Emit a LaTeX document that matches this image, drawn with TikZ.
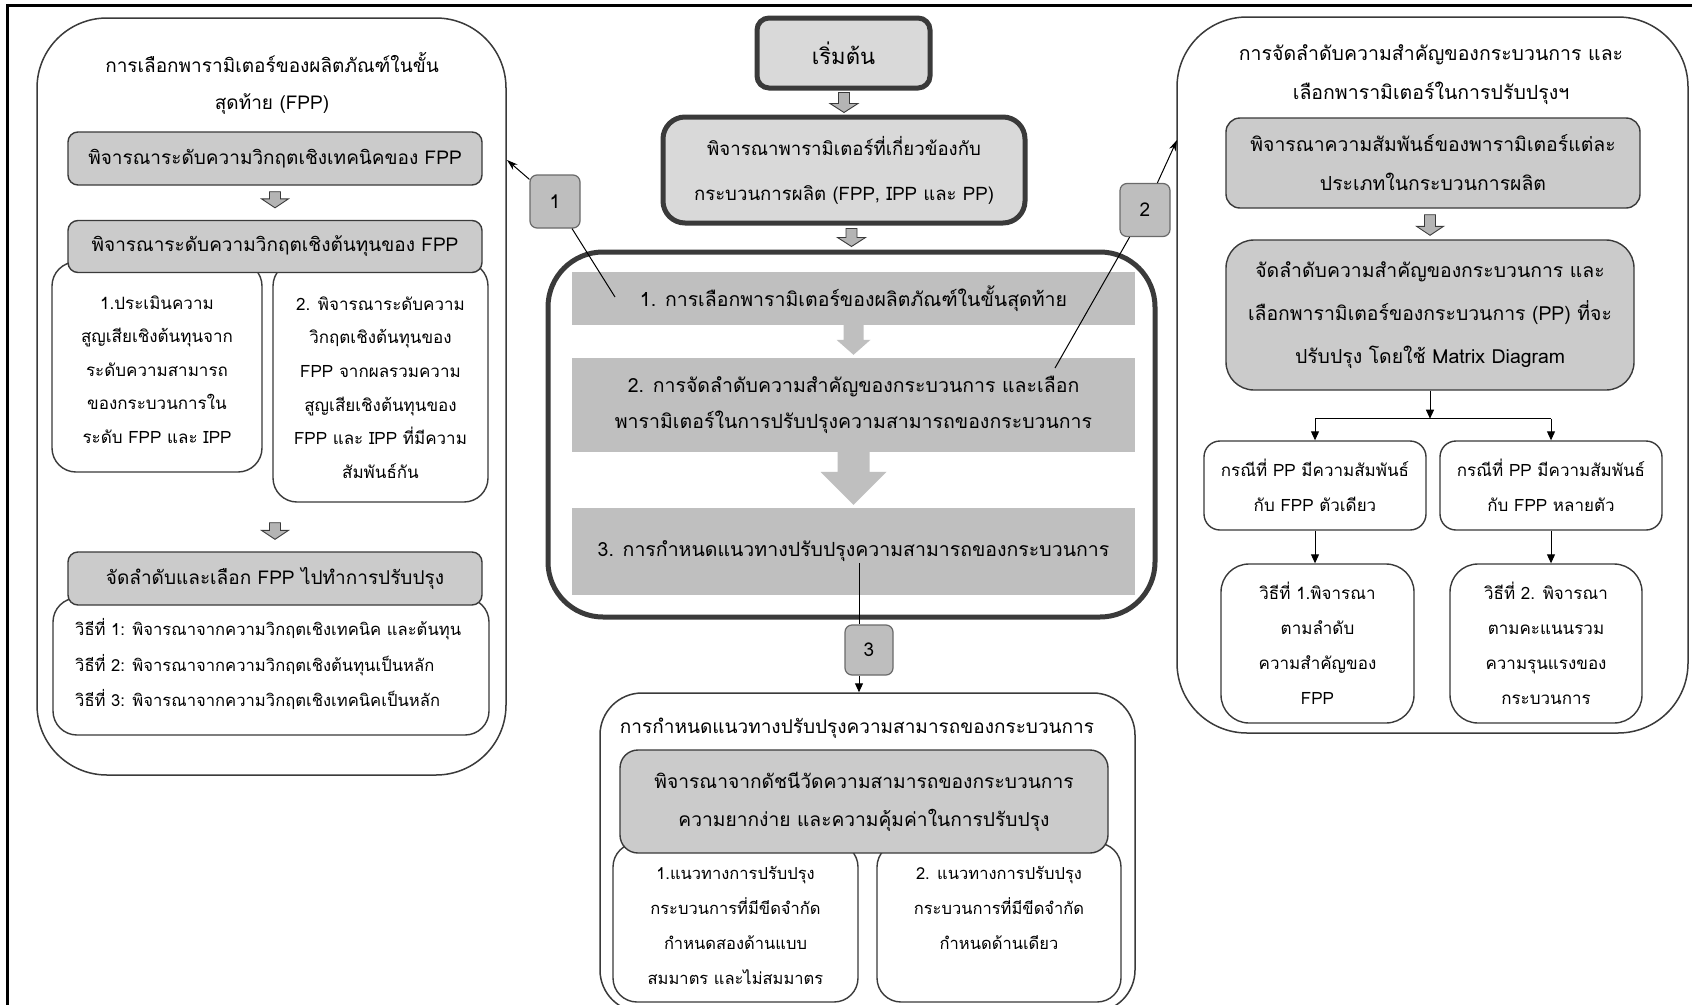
\documentclass[tikz,border=0pt]{standalone}
\usepackage{fontspec}
\setmainfont[Script=Thai]{Loma}
\usetikzlibrary{arrows.meta,calc}

\definecolor{boxgray}{HTML}{CBCBCB}
\definecolor{bandgray}{HTML}{BFBFBF}
\definecolor{startgray}{HTML}{D9D9D9}
\definecolor{edgegray}{HTML}{3A3A3A}
\definecolor{labgray}{HTML}{BEBEBE}
\definecolor{labedge}{HTML}{6A6A6A}
\definecolor{arrowgray}{HTML}{B4B4B4}

\newcommand\fs[2]{\fontsize{#1}{#2}\selectfont}

% block arrow between two nodes: from, to, half shaft, half head, head length, top gap, bottom gap, style
\newcommand\blockarrow[8]{%
  \path[#8] let \p1=(#1.south), \p2=(#2.north) in
    ({\x2-#3pt},{\y1-#6pt}) -- ({\x2+#3pt},{\y1-#6pt}) --
    ({\x2+#3pt},{\y2+#7pt+#5pt}) -- ({\x2+#4pt},{\y2+#7pt+#5pt}) --
    (\x2,{\y2+#7pt}) -- ({\x2-#4pt},{\y2+#7pt+#5pt}) --
    ({\x2-#3pt},{\y2+#7pt+#5pt}) -- cycle;}

\begin{document}
\begin{tikzpicture}[x=1pt,y=-1pt,
  panel/.style={draw=edgegray, line width=1.5pt, fill=white, rounded corners=70pt, inner sep=0pt},
  gbox/.style={draw=edgegray, line width=1.4pt, fill=boxgray, rounded corners=10pt, align=center, inner sep=0pt, font=\fs{19}{38}},
  wbox/.style={draw=edgegray, line width=1.4pt, fill=white, rounded corners=24pt, inner sep=0pt},
  subtext/.style={align=center, inner sep=0pt, font=\fs{17}{33.6}},
  titletext/.style={align=center, inner sep=0pt, font=\fs{19}{37}},
  startbox/.style={draw=edgegray, line width=5pt, fill=startgray, rounded corners=12pt, align=center, inner sep=0pt},
  bigbox/.style={draw=edgegray, line width=5pt, fill=white, rounded corners=55pt, inner sep=0pt},
  band/.style={fill=bandgray, align=center, inner sep=0pt, font=\fs{19.5}{36}},
  tag/.style={draw=labedge, line width=1.2pt, fill=labgray, rounded corners=7pt, inner sep=0pt, minimum width=50pt, minimum height=53pt, font=\fs{19}{22}},
  sidearrow/.style={fill=arrowgray, draw=edgegray, line width=0.9pt},
  bandarrow/.style={fill=bandgray},
  flow/.style={line width=1pt, -{Triangle[length=9pt,width=8pt]}},
  callout/.style={line width=1pt, -{Stealth[length=11pt,width=7pt]}}
]
\useasboundingbox (0,0) rectangle (1692,1004);
\clip (0,0) rectangle (1692,1004);
\fill[white] (0,0) rectangle (1692,1004);
\draw[black, line width=3pt] (7,5) rectangle (1730,1040);

% ---------------- left panel ----------------
\node[panel, minimum width=469pt, minimum height=757pt] (lpanel) at (271.5,396.5) {};
\node[titletext] (ltitle) at (272,83) {การเลือกพารามิเตอร์ของผลิตภัณฑ์ในขั้น\\สุดท้าย (FPP)};
\node[wbox, minimum width=210pt, minimum height=210pt] (a3) at (157,367) {};
\node[wbox, minimum width=215pt, minimum height=240pt] (a4) at (380.5,382) {};
\node[subtext] (a3t) at (157,369.5) {1.ประเมินความ\\สูญเสียเชิงต้นทุนจาก\\ระดับความสามารถ\\ของกระบวนการใน\\ระดับ FPP และ IPP};
\node[subtext] (a4t) at (380.5,387.5) {2. พิจารณาระดับความ\\วิกฤตเชิงต้นทุนของ\\FPP จากผลรวมความ\\สูญเสียเชิงต้นทุนของ\\FPP และ IPP ที่มีความ\\สัมพันธ์กัน};
\node[gbox, minimum width=414pt, minimum height=53pt] (a1) at (275,158.5) {พิจารณาระดับความวิกฤตเชิงเทคนิคของ FPP};
\node[gbox, minimum width=414pt, minimum height=52pt] (a2) at (275,246.5) {พิจารณาระดับความวิกฤตเชิงต้นทุนของ FPP};
\node[wbox, minimum width=436pt, minimum height=137pt] (a6) at (271,666.5) {};
\node[gbox, minimum width=414pt, minimum height=53pt] (a5) at (275,578.5) {จัดลำดับและเลือก FPP ไปทำการปรับปรุง};
\node[subtext, align=left, anchor=west, font=\fs{16.6}{35.5}] (a6t) at (75,664) {วิธีที่ 1: พิจารณาจากความวิกฤตเชิงเทคนิค และต้นทุน\\วิธีที่ 2: พิจารณาจากความวิกฤตเชิงต้นทุนเป็นหลัก\\วิธีที่ 3: พิจารณาจากความวิกฤตเชิงเทคนิคเป็นหลัก};
\blockarrow{a1}{a2}{5.5}{13.5}{9}{6}{12}{sidearrow}
\blockarrow{a4}{a5}{5.5}{13.5}{9}{20}{12}{sidearrow}

% ---------------- centre column ----------------
\node[startbox, minimum width=173pt, minimum height=70pt, font=\fs{22}{26}] (c0) at (843.5,53) {เริ่มต้น};
\node[startbox, rounded corners=22pt, minimum width=362pt, minimum height=106pt, font=\fs{18.6}{45}] (c1) at (844,170) {พิจารณาพารามิเตอร์ที่เกี่ยวข้องกับ\\กระบวนการผลิต (FPP, IPP และ PP)};
\blockarrow{c0}{c1}{5.5}{14}{9}{2}{2}{sidearrow}
\node[bigbox, minimum width=607pt, minimum height=365pt] (bb) at (851.5,434.5) {};
\blockarrow{c1}{bb}{5.5}{14}{9}{3}{3}{sidearrow}
\node[band, minimum width=563pt, minimum height=53pt] (b1) at (853.5,298.5) {1. การเลือกพารามิเตอร์ของผลิตภัณฑ์ในขั้นสุดท้าย};
\node[band, minimum width=563pt, minimum height=94pt] (b2) at (853.5,405) {2. การจัดลำดับความสำคัญของกระบวนการ และเลือก\\พารามิเตอร์ในการปรับปรุงความสามารถของกระบวนการ};
\node[band, minimum width=563pt, minimum height=87pt] (b3) at (853.5,551.5) {3. การกำหนดแนวทางปรับปรุงความสามารถของกระบวนการ};
\blockarrow{b1}{b2}{10}{17}{15}{0}{3}{bandarrow}
\blockarrow{b2}{b3}{16}{33}{33}{0}{3}{bandarrow}

% ---------------- lower centre panel ----------------
\node[panel, rounded corners=42pt, minimum width=535pt, minimum height=319pt] (lb) at (867.5,852.5) {};
\node[titletext] (lbt) at (857,728) {การกำหนดแนวทางปรับปรุงความสามารถของกระบวนการ};
\node[wbox, minimum width=245pt, minimum height=159pt] (ls1) at (735.5,922.5) {};
\node[wbox, minimum width=244pt, minimum height=159pt] (ls2) at (999,922.5) {};
\node[gbox, rounded corners=18pt, minimum width=488pt, minimum height=103pt, font=\fs{19.2}{38}] (lg) at (864,801.5) {พิจารณาจากดัชนีวัดความสามารถของกระบวนการ\\ความยากง่าย และความคุ้มค่าในการปรับปรุง};
\node[subtext, font=\fs{16.5}{35}] (ls1t) at (735.5,925.5) {1.แนวทางการปรับปรุง\\กระบวนการที่มีขีดจำกัด\\กำหนดสองด้านแบบ\\สมมาตร และไม่สมมาตร};
\node[subtext, font=\fs{16.5}{35}] (ls2t) at (999,908) {2. แนวทางการปรับปรุง\\กระบวนการที่มีขีดจำกัด\\กำหนดด้านเดียว};

% ---------------- right panel ----------------
\node[panel, minimum width=511pt, minimum height=716pt] (rpanel) at (1432.5,375) {};
\node[titletext, font=\fs{19.5}{39}] (rtitle) at (1431,75) {การจัดลำดับความสำคัญของกระบวนการ และ\\เลือกพารามิเตอร์ในการปรับปรุงฯ};
\node[gbox, rounded corners=14pt, minimum width=414pt, minimum height=90pt, font=\fs{19.4}{39}] (r1) at (1433,163) {พิจารณาความสัมพันธ์ของพารามิเตอร์แต่ละ\\ประเภทในกระบวนการผลิต};
\node[gbox, rounded corners=28pt, minimum width=408pt, minimum height=150pt, font=\fs{19.4}{43}] (r2) at (1430,315) {จัดลำดับความสำคัญของกระบวนการ และ\\เลือกพารามิเตอร์ของกระบวนการ (PP) ที่จะ\\ปรับปรุง โดยใช้ Matrix Diagram};
\blockarrow{r1}{r2}{5.5}{13.5}{9}{6}{4}{sidearrow}
\node[wbox, rounded corners=16pt, minimum width=222pt, minimum height=89pt, subtext, font=\fs{17}{35}] (r3) at (1315,485.5) {กรณีที่ PP มีความสัมพันธ์\\กับ FPP ตัวเดียว};
\node[wbox, rounded corners=16pt, minimum width=222pt, minimum height=89pt, subtext, font=\fs{17}{35}] (r4) at (1551,485.5) {กรณีที่ PP มีความสัมพันธ์\\กับ FPP หลายตัว};
\node[wbox, rounded corners=28pt, minimum width=193pt, minimum height=159pt, subtext, font=\fs{17}{35}] (r5) at (1317.5,643.5) {วิธีที่ 1.พิจารณา\\ตามลำดับ\\ความสำคัญของ\\FPP};
\node[wbox, rounded corners=28pt, minimum width=192pt, minimum height=159pt, subtext, font=\fs{17}{35}] (r6) at (1546,643.5) {วิธีที่ 2. พิจารณา\\ตามคะแนนรวม\\ความรุนแรงของ\\กระบวนการ};
\path (r2.south) ++(0,28) coordinate (split);
\draw[flow] (r2.south) -- (split);
\draw[line width=1pt] (split -| r3.north) -- (split -| r4.north);
\draw[flow] (split -| r3.north) -- (r3.north);
\draw[flow] (split -| r4.north) -- (r4.north);
\draw[flow] (r3.south) -- (r3.south |- r5.north);
\draw[flow] (r4.south) -- (r4.south |- r6.north);

% ---------------- numbered call-outs ----------------
\node[tag] (lab1) at (555,201.5) {1};
\node[tag] (lab2) at (1145,210) {2};
\node[tag, minimum width=48pt, minimum height=50pt] (lab3) at (869,650) {3};
\coordinate (p1) at (615,297);
\coordinate (q1) at (507,160);
\coordinate (p2) at (1055,368);
\coordinate (q2) at (1177,140);
\coordinate (p3) at (859,563);
\draw[line width=1pt] (lab1) -- (p1);
\draw[callout] (lab1) -- (q1);
\draw[line width=1pt] (lab2) -- (p2);
\draw[callout] (lab2) -- (q2);
\draw[line width=1pt] (p3) -- (p3 |- lab3.north);
\draw[flow] (p3 |- lab3.south) -- (p3 |- lb.north);
\end{tikzpicture}
\end{document}
